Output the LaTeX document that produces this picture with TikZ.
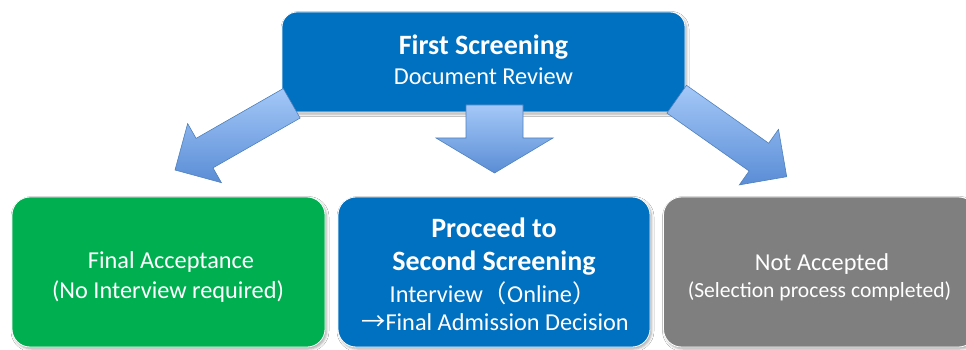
\documentclass[tikz,border=0pt]{standalone}
\usepackage{fontspec}
\setmainfont{Carlito}
\newfontfamily\cjkfont{Noto Sans CJK JP}
\usetikzlibrary{calc,shadows.blur}
\definecolor{boxblue}{HTML}{0070C0}
\definecolor{boxgreen}{HTML}{00B050}
\definecolor{boxgray}{HTML}{7F7F7F}
\definecolor{arrlight}{HTML}{A4C8F8}
\definecolor{arrdark}{HTML}{5A8DD6}
\definecolor{arredge}{HTML}{4F81BD}
\tikzset{
 box/.style={draw=white, line width=0.8pt, rounded corners=18pt, inner sep=0pt,
   blur shadow={shadow xshift=1.5pt, shadow yshift=-2pt, shadow blur radius=2.5pt, shadow opacity=35}},
 arrowbody/.style={draw=arredge, line width=0.6pt, top color=arrlight, bottom color=arrdark, line join=miter},
 lbl/.style={text=white, anchor=base, inner sep=0pt},
 big/.style={font=\fontsize{28}{34}\selectfont\bfseries},
 mid/.style={font=\fontsize{24.3}{29}\selectfont},
 small/.style={font=\fontsize{21.6}{26}\selectfont},
}
% #1 tail, #2 tip, #3 half shaft width, #4 half head width, #5 head length, #6 base name
\newcommand{\mkblockarrow}[6]{%
  \coordinate (#6) at ($(#2)!#5!(#1)$);
  \path[arrowbody] ($(#1)!#3!90:(#2)$) -- ($(#6)!#3!90:(#2)$) -- ($(#6)!#4!90:(#2)$)
     -- (#2) -- ($(#6)!#4!-90:(#2)$) -- ($(#6)!#3!-90:(#2)$) -- ($(#1)!#3!-90:(#2)$) -- cycle;
}
\begin{document}
\begin{tikzpicture}[x=1pt,y=-1pt]
\useasboundingbox (0,0) rectangle (966,350);
\clip (0,0) rectangle (966,350);
\fill[white] (0,0) rectangle (966,350);
% boxes
\node[box, fill=boxblue, rounded corners=15pt, minimum width=403pt, minimum height=100pt] (first) at (483.5,62) {};
\node[box, fill=boxgreen, minimum width=313pt, minimum height=150pt] (accept) at (168.5,272) {};
\node[box, fill=boxblue, minimum width=312pt, minimum height=150pt] (second) at (494,272) {};
\node[box, fill=boxgray, minimum width=313pt, minimum height=150pt] (reject) at (820,272) {};
% block arrows
\coordinate (la-t) at (291.7,103.3); \coordinate (la-h) at (175,170);
\coordinate (ma-t) at (494.5,105);   \coordinate (ma-h) at (494.5,173);
\coordinate (ra-t) at (676.7,99.2);  \coordinate (ra-h) at (786.7,176.7);
\mkblockarrow{la-t}{la-h}{17pt}{34pt}{34pt}{la-b}
\mkblockarrow{ma-t}{ma-h}{28.5pt}{58.5pt}{35pt}{ma-b}
\mkblockarrow{ra-t}{ra-h}{17pt}{34pt}{34pt}{ra-b}
% labels
\node[lbl,big] (first1) at (483.5,55) {First Screening};
\node[lbl,mid] (first2) at (483.5,85) {Document Review};
\node[lbl,mid] (acc1) at (171,268) {Final Acceptance};
\node[lbl,mid] (acc2) at (168,298) {(No Interview required)};
\node[lbl,big] (sec1) at (494,237) {Proceed to};
\node[lbl,big] (sec2) at (494,270) {Second Screening};
\node[lbl,mid] (sec3) at (493,302) {Interview{\cjkfont （}Online{\cjkfont ）}};
\node[lbl,mid] (sec4) at (495,330) {{\cjkfont →}Final Admission Decision};
\node[lbl,mid] (rej1) at (822,270) {Not Accepted};
\node[lbl,small] (rej2) at (819.5,297) {(Selection process completed)};
\end{tikzpicture}
\end{document}
